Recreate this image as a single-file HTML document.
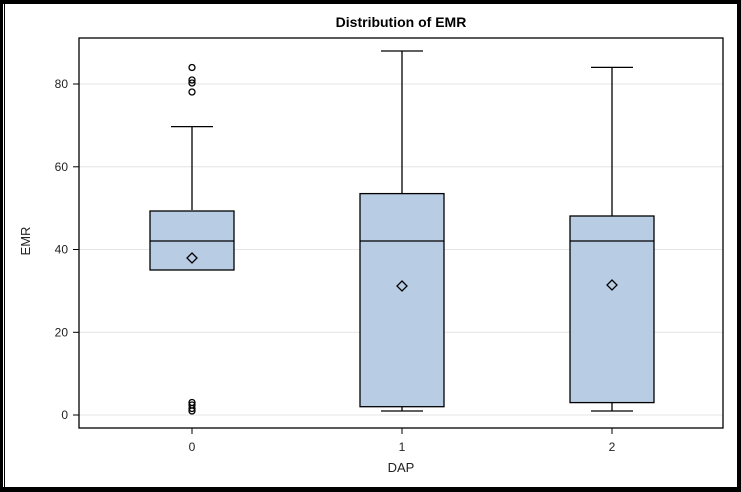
<!DOCTYPE html>
<html><head><style>body{margin:0;background:#000}svg{display:block}</style></head><body>
<svg width="741" height="492" xmlns="http://www.w3.org/2000/svg" font-family="Liberation Sans, sans-serif">
<rect x="0" y="0" width="741" height="492" fill="#000"/>
<rect x="3" y="4" width="734" height="483" fill="#fff"/>
<line x1="4.5" y1="4" x2="4.5" y2="487" stroke="#000" stroke-width="1"/>
<g stroke="#e4e4e4" stroke-width="1">
<line x1="79" y1="415" x2="723" y2="415"/><line x1="79" y1="332.3" x2="723" y2="332.3"/>
<line x1="79" y1="249.5" x2="723" y2="249.5"/><line x1="79" y1="166.8" x2="723" y2="166.8"/>
<line x1="79" y1="84" x2="723" y2="84"/>
</g>
<g stroke="#000" stroke-width="1.3" fill="#b8cce4">
<!-- group 0 -->
<line x1="192" y1="126.6" x2="192" y2="210"/><line x1="171" y1="126.6" x2="213" y2="126.6"/>
<rect x="150" y="211" width="84" height="59"/><line x1="150" y1="241" x2="234" y2="241"/>
<!-- group 1 -->
<line x1="402" y1="51" x2="402" y2="193.6"/><line x1="381" y1="51" x2="423" y2="51"/>
<line x1="402" y1="406.7" x2="402" y2="411"/><line x1="381" y1="411" x2="423" y2="411"/>
<rect x="360" y="193.6" width="84" height="213.1"/><line x1="360" y1="241" x2="444" y2="241"/>
<!-- group 2 -->
<line x1="612" y1="67.4" x2="612" y2="216"/><line x1="591" y1="67.4" x2="633" y2="67.4"/>
<line x1="612" y1="402.6" x2="612" y2="411"/><line x1="591" y1="411" x2="633" y2="411"/>
<rect x="570" y="216" width="84" height="186.6"/><line x1="570" y1="241" x2="654" y2="241"/>
</g>
<g stroke="#000" stroke-width="1.3" fill="none">
<circle cx="192" cy="67.5" r="3"/><circle cx="192" cy="80" r="3"/><circle cx="192" cy="83" r="3"/><circle cx="192" cy="92" r="3"/>
<circle cx="192" cy="402.5" r="3"/><circle cx="192" cy="405" r="3"/><circle cx="192" cy="408.5" r="3"/><circle cx="192" cy="411" r="3"/>
<path d="M192 253 L197 258 L192 263 L187 258 Z"/>
<path d="M402 281 L407 286 L402 291 L397 286 Z"/>
<path d="M612 280 L617 285 L612 290 L607 285 Z"/>
</g>
<rect x="79" y="38" width="644" height="390" fill="none" stroke="#000" stroke-width="1.3"/>
<g stroke="#000" stroke-width="1">
<line x1="73" y1="415" x2="79" y2="415"/><line x1="73" y1="332.3" x2="79" y2="332.3"/>
<line x1="73" y1="249.5" x2="79" y2="249.5"/><line x1="73" y1="166.8" x2="79" y2="166.8"/>
<line x1="73" y1="84" x2="79" y2="84"/>
<line x1="192" y1="428" x2="192" y2="434"/><line x1="402" y1="428" x2="402" y2="434"/><line x1="612" y1="428" x2="612" y2="434"/>
</g>
<g font-size="12" fill="#222" text-anchor="end">
<text x="68" y="419">0</text><text x="68" y="336.5">20</text><text x="68" y="253.5">40</text>
<text x="68" y="171">60</text><text x="68" y="88">80</text>
</g>
<g font-size="12" fill="#222" text-anchor="middle">
<text x="192" y="451">0</text><text x="402" y="451">1</text><text x="612" y="451">2</text>
<text x="401" y="472" font-size="13">DAP</text>
<text x="401" y="27" font-size="14" font-weight="bold" fill="#000">Distribution of EMR</text>
<text transform="translate(30,241) rotate(-90)" font-size="13">EMR</text>
</g>
</svg>
</body></html>
